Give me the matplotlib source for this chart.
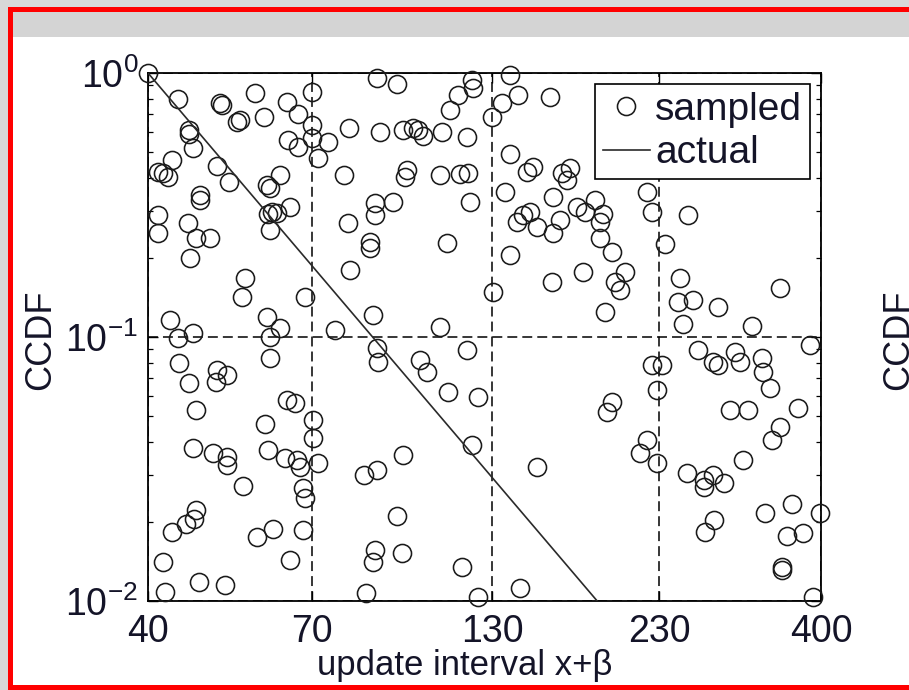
import matplotlib
matplotlib.use("Agg")
import matplotlib.pyplot as plt
from matplotlib.patches import Rectangle
from matplotlib.ticker import FixedLocator, FixedFormatter, NullLocator, LogLocator

plt.rcParams.update(
    {
        "font.family": ["Liberation Sans", "DejaVu Sans"],
        "mathtext.fontset": "custom",
        "mathtext.rm": "Liberation Sans",
        "mathtext.it": "Liberation Sans:italic",
    }
)

# sampled CCDF points
sampled_x = [
    40.0, 44.3, 51.2, 51.6, 57.6, 64.3, 70.1, 54.2, 54.8, 59.4, 66.8, 70.1, 46.0, 46.0, 79.6,
    64.6, 66.8, 70.1, 74.1, 71.5, 46.6, 43.4, 41.4, 42.1, 42.8, 50.7, 52.7, 62.8, 60.0, 60.7,
    78.3, 47.8, 47.8, 61.1, 62.2, 60.3, 65.0, 41.4, 45.9, 60.7, 79.4, 41.4, 47.1, 49.5,
    87.6, 93.7, 121.2, 121.6, 115.5, 138.0, 141.9, 134.3, 158.2, 112.4, 129.8, 88.5, 95.6, 99.0,
    100.7, 102.4, 109.3, 119.1, 138.0, 146.3, 149.3, 164.8, 167.7, 169.5, 96.9, 96.3, 108.6,
    116.3, 119.6, 86.9, 86.9, 92.4, 120.4, 135.7, 159.8, 147.8, 144.3, 141.4, 151.4, 163.7,
    173.6, 178.4, 159.8, 85.5, 111.2,
    220.5, 224.3, 253.8, 184.6, 187.8, 189.7, 234.6, 187.8, 195.7, 177.2, 204.6, 197.7, 201.1,
    191.0, 246.9, 245.2, 258.5, 280.9, 347.6, 249.5, 316.0, 385.3, 263.0, 276.2, 280.9, 298.1,
    303.2, 326.9, 328.0, 335.9, 224.3, 232.2, 228.0, 195.7, 192.3, 293.0, 311.6, 369.7,
    220.5, 215.3, 228.0, 347.6, 338.2, 306.3, 253.0, 267.6, 276.2, 286.9, 267.6, 362.3, 330.3,
    398.6, 277.1, 269.4, 356.1, 376.2, 350.0, 350.0, 389.3,
    46.2, 55.7, 55.1, 68.4, 79.9, 85.5, 43.1, 44.3, 46.6, 60.0, 62.8, 60.7, 60.7, 75.9, 44.5,
    46.0, 50.7, 50.4, 52.5, 64.3, 66.1, 47.1, 59.6, 70.3, 70.3,
    138.0, 130.2, 159.3, 86.4, 108.6, 87.6, 87.9, 119.1, 101.4, 103.8, 111.6, 123.7,
    46.6, 50.0, 52.5, 52.5, 60.3, 63.9, 66.6, 67.3, 71.5, 55.3, 68.0, 68.4, 83.7, 47.1, 46.8,
    45.5, 43.4, 61.3, 58.0, 68.0, 42.1, 65.0, 47.6, 52.1, 42.4,
    121.2, 151.4, 95.6, 87.6, 93.7, 86.9, 86.4, 95.3, 117.1, 142.8, 84.3, 123.7,
]
sampled_y = [
    1.0, 0.797, 0.770, 0.757, 0.840, 0.776, 0.847, 0.652, 0.664, 0.681, 0.699, 0.636, 0.608, 0.588, 0.619,
    0.557, 0.524, 0.567, 0.548, 0.477, 0.520, 0.468, 0.422, 0.418, 0.404, 0.445, 0.387, 0.411, 0.376, 0.367,
    0.411, 0.345, 0.330, 0.298, 0.295, 0.293, 0.311, 0.290, 0.270, 0.254, 0.270, 0.248, 0.237, 0.237,
    0.957, 0.909, 0.941, 0.877, 0.825, 0.983, 0.825, 0.770, 0.811, 0.724, 0.681, 0.598, 0.608, 0.619,
    0.608, 0.577, 0.598, 0.572, 0.494, 0.422, 0.441, 0.418, 0.393, 0.437, 0.429, 0.404, 0.411,
    0.415, 0.418, 0.322, 0.290, 0.324, 0.324, 0.354, 0.339, 0.298, 0.290, 0.272, 0.261, 0.277,
    0.311, 0.298, 0.248, 0.229, 0.227,
    0.354, 0.298, 0.290, 0.330, 0.272, 0.293, 0.225, 0.237, 0.210, 0.176, 0.176, 0.162, 0.151,
    0.124, 0.168, 0.136, 0.138, 0.130, 0.153, 0.112, 0.110, 0.0932, 0.0893, 0.0804, 0.0783, 0.0877,
    0.0804, 0.0833, 0.0737, 0.0641, 0.0783, 0.0783, 0.0630, 0.0567, 0.0520, 0.0529, 0.0529, 0.0538,
    0.0407, 0.0364, 0.0334, 0.0458, 0.0407, 0.0342, 0.0306, 0.0287, 0.0301, 0.0280, 0.0270, 0.0234, 0.0215,
    0.0215, 0.0203, 0.0182, 0.0177, 0.0181, 0.0134, 0.0131, 0.0104,
    0.199, 0.168, 0.142, 0.142, 0.179, 0.217, 0.116, 0.0991, 0.104, 0.119, 0.108, 0.100, 0.0833, 0.106, 0.0797,
    0.0670, 0.0750, 0.0676, 0.0718, 0.0577, 0.0562, 0.0529, 0.0470, 0.0485, 0.0413,
    0.204, 0.148, 0.162, 0.121, 0.109, 0.0909, 0.0804, 0.0893, 0.0818, 0.0737, 0.0619, 0.0592,
    0.0380, 0.0364, 0.0352, 0.0328, 0.0373, 0.0349, 0.0342, 0.0321, 0.0334, 0.0272, 0.0268, 0.0245, 0.0301, 0.0222, 0.0205,
    0.0195, 0.0182, 0.0187, 0.0174, 0.0186, 0.0141, 0.0143, 0.0118, 0.0115, 0.0108,
    0.0391, 0.0321, 0.0358, 0.0313, 0.0209, 0.0156, 0.0141, 0.0152, 0.0135, 0.0112, 0.0107, 0.0104,
]

# actual CCDF: straight line on log-log axes
actual_x = [40, 186]
actual_y = [1.0, 0.01]

x_ticks = [40, 70, 130, 230, 400]
x_tick_labels = ["40", "70", "130", "230", "400"]
y_ticks = [0.01, 0.1, 1.0]

W, H = 909, 690
fig = plt.figure(figsize=(W / 100, H / 100), dpi=100)
fig.patch.set_facecolor("#d8d8d8")


def px_rect(x0, y0, x1, y1, color):
    # rectangle given in pixel coords, measured from the top-left
    fig.add_artist(
        Rectangle((x0 / W, 1 - y1 / H), (x1 - x0) / W, (y1 - y0) / H,
                  transform=fig.transFigure, facecolor=color, edgecolor="none", zorder=-10)
    )


px_rect(13, 37, W, 685, "white")
px_rect(13, 12, W, 37, "#d4d4d4")
px_rect(8, 7, W, 12, "#ff0000")
px_rect(8, 7, 13, H, "#ff0000")
px_rect(8, 685, W, H, "#ff0000")

ax = fig.add_axes([148 / W, 1 - 601 / H, 673 / W, 528 / H])
ax.set_xscale("log")
ax.set_yscale("log")

ax.plot(sampled_x, sampled_y, linestyle="none", marker="o", markersize=13,
        markerfacecolor="none", markeredgecolor="#1a1a1a", markeredgewidth=1.15,
        clip_on=False, zorder=3, label="sampled")
ax.plot(actual_x, actual_y, color="#2a2a2a", linewidth=1.2, zorder=3, label="actual")

ax.set_xlim(40, 400)
ax.set_ylim(0.01, 1)
ax.xaxis.set_major_locator(FixedLocator(x_ticks))
ax.xaxis.set_major_formatter(FixedFormatter(x_tick_labels))
ax.xaxis.set_minor_locator(NullLocator())
ax.yaxis.set_major_locator(FixedLocator(y_ticks))
ax.yaxis.set_minor_locator(LogLocator(base=10, subs=range(2, 10)))

ax.grid(True, which="major", color="black", linestyle=(0, (6.5, 3.3)), linewidth=1.1)
ax.tick_params(which="both", direction="in", top=True, right=True, colors="black",
               labelcolor="#141428", labelsize=27)
ax.tick_params(which="major", length=7, width=1.0)
ax.tick_params(which="minor", length=3.5, width=0.9)
ax.tick_params(axis="x", pad=9)
ax.tick_params(axis="y", pad=7)
for s in ax.spines.values():
    s.set_linewidth(1.3)

ax.set_xlabel("update interval x+β", fontsize=25, color="#141428", va="center")
ax.xaxis.set_label_coords(0.47, -0.123)
ax.set_ylabel("CCDF", fontsize=26, color="#141428", va="center")
ax.yaxis.set_label_coords(-0.16, 0.494)

# cut-off label of the neighbouring panel
fig.text(899 / W, 1 - 340 / H, "CCDF", rotation=90, fontsize=26, color="#141428",
         ha="center", va="center")

leg = ax.legend(loc="upper right", fontsize=28, numpoints=1, fancybox=False,
                framealpha=1, edgecolor="black", borderaxespad=0.28, borderpad=0.2,
                handlelength=1.2, handletextpad=0.15, labelspacing=0.2)
leg.get_frame().set_linewidth(1.2)
for t in leg.get_texts():
    t.set_color("#141428")

fig.savefig("out.png", dpi=100, facecolor=fig.get_facecolor())
